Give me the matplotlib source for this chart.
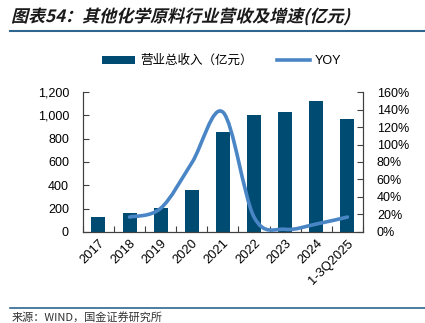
import numpy as np
import matplotlib
matplotlib.use("Agg")
import matplotlib.pyplot as plt
from matplotlib.path import Path
from matplotlib.patches import PathPatch, Patch
from matplotlib.lines import Line2D
from matplotlib.ticker import FuncFormatter
from matplotlib.textpath import TextPath
from matplotlib.font_manager import FontProperties
from matplotlib.transforms import Affine2D, IdentityTransform

plt.rcParams['font.family'] = ['Liberation Sans', 'Noto Sans CJK SC', 'DejaVu Sans']

# Data
categories = ['2017', '2018', '2019', '2020', '2021', '2022', '2023', '2024', '1-3Q2025']
revenue = [130, 159, 201, 363, 857, 1004, 1032, 1123, 967]   # 亿元
yoy = [np.nan, 17, 27, 79, 137, 17, 3, 9, 17]                 # %

bar_color = '#004b71'
line_color = '#4a86c6'
rule_color = '#2f6690'

DPI = 100
fig = plt.figure(figsize=(4.25, 3.23), dpi=DPI)
ax = fig.add_axes([0.195, 0.282, 0.659, 0.433])
ax2 = ax.twinx()

x = np.arange(len(categories))
ax.bar(x, revenue, width=0.45, color=bar_color, zorder=2)
ax.set_xlim(-0.5, len(categories) - 0.5)
ax.set_ylim(0, 1200)
ax.set_yticks(np.arange(0, 1201, 200))
ax.yaxis.set_major_formatter(FuncFormatter(lambda v, p: f'{int(v):,}'))

# smoothed YOY line (Catmull-Rom style bezier through the data points)
pts = [(xi, yi) for xi, yi in zip(x, yoy) if not np.isnan(yi)]
pts = np.array(pts, dtype=float)
verts = [pts[0]]
codes = [Path.MOVETO]
n = len(pts)
for i in range(n - 1):
    p0 = pts[i - 1] if i > 0 else pts[i]
    p1 = pts[i]
    p2 = pts[i + 1]
    p3 = pts[i + 2] if i + 2 < n else pts[i + 1]
    c1 = p1 + (p2 - p0) / 6
    c2 = p2 - (p3 - p1) / 6
    verts += [c1, c2, p2]
    codes += [Path.CURVE4] * 3
ax2.add_patch(PathPatch(Path(verts, codes), facecolor='none', edgecolor=line_color,
                        lw=2.6, capstyle='round', zorder=3))
ax2.set_ylim(0, 160)
ax2.set_yticks(np.arange(0, 161, 20))
ax2.yaxis.set_major_formatter(FuncFormatter(lambda v, p: f'{int(v)}%'))

# x ticks at category boundaries, labels at centers
ax.set_xticks(np.arange(-0.5, len(categories), 1.0))
ax.set_xticklabels([])
ax.set_xticks(x, minor=True)
ax.set_xticklabels(categories, minor=True, rotation=45, ha='right',
                   rotation_mode='anchor', fontsize=9.3)
ax.tick_params(axis='x', which='minor', length=0, pad=4)
ax.tick_params(axis='x', which='major', direction='in', length=4, color='#404040')
ax.tick_params(axis='y', direction='in', length=4, labelsize=9, color='#404040', pad=10)
ax2.tick_params(axis='y', direction='in', length=4, labelsize=9, color='#404040', pad=10)

for a in (ax, ax2):
    a.spines['top'].set_visible(False)
    for s in ('left', 'right', 'bottom'):
        a.spines[s].set_color('#404040')
        a.spines[s].set_linewidth(0.8)

handles = [Patch(facecolor=bar_color, edgecolor='none'),
           Line2D([0], [0], color=line_color, lw=2.6)]
fig.legend(handles, ['营业总收入（亿元）', 'YOY'], loc='center', ncol=2,
           bbox_to_anchor=(0.522, 0.811), frameon=False, fontsize=9,
           handlelength=2.6, handleheight=0.6, handletextpad=0.4, columnspacing=2.0)

# italic-looking title: slanted text path, placed in pixels
title = '图表54：其他化学原料行业营收及增速(亿元)'
fp = FontProperties(family='Noto Sans CJK SC', weight='bold')
tp = TextPath((0, 0), title, size=17, prop=fp)
tx = Affine2D().skew_deg(14, 0).translate(11, 323 - 22) + IdentityTransform()
fig.add_artist(PathPatch(tp, transform=tx, facecolor='#1a1a1a', edgecolor='none'))

fig.add_artist(Line2D([0.024, 1.0], [0.904, 0.904], color=rule_color, lw=1.5))
fig.add_artist(Line2D([0.024, 1.0], [0.046, 0.046], color=rule_color, lw=1.2))
fig.text(0.028, 0.002, '来源：WIND，国金证券研究所', fontsize=8, color='#333333',
         va='bottom', family=['Noto Sans CJK SC', 'DejaVu Sans'])

fig.savefig('out.png', dpi=DPI)
